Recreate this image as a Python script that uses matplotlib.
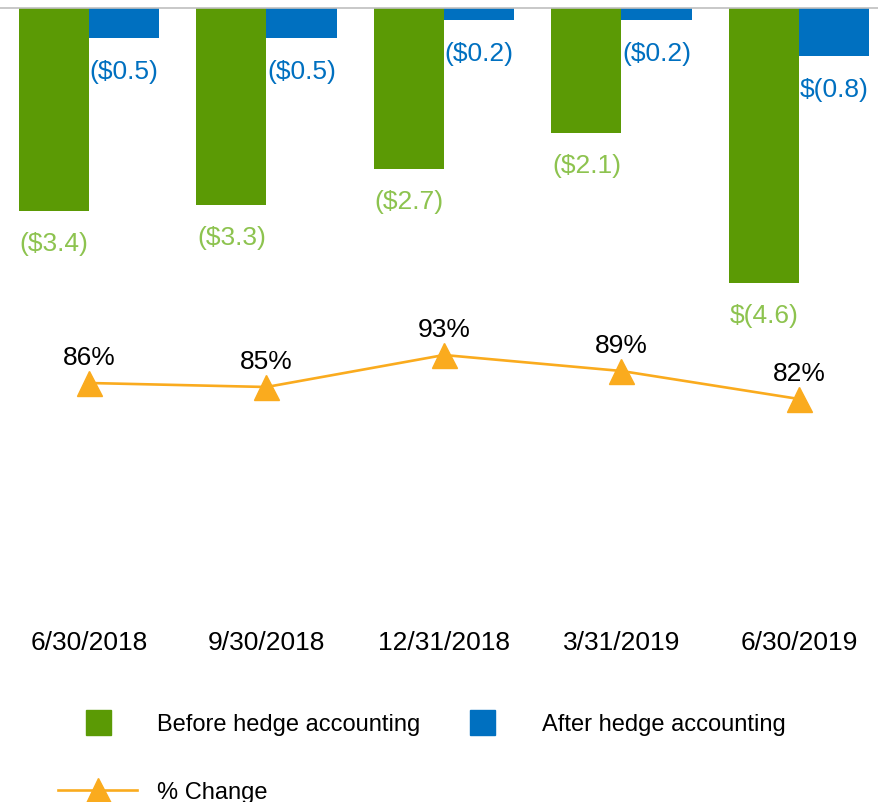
import matplotlib.pyplot as plt
from matplotlib.lines import Line2D
import numpy as np

plt.rcParams['font.family'] = ['Liberation Sans', 'DejaVu Sans']

# data
dates = ["6/30/2018", "9/30/2018", "12/31/2018", "3/31/2019", "6/30/2019"]
before = [-3.4, -3.3, -2.7, -2.1, -4.6]
after = [-0.5, -0.5, -0.2, -0.2, -0.8]
before_lbl = ["($3.4)", "($3.3)", "($2.7)", "($2.1)", "$(4.6)"]
after_lbl = ["($0.5)", "($0.5)", "($0.2)", "($0.2)", "$(0.8)"]
pct = [86, 85, 93, 89, 82]

green = "#5B9A05"
blue = "#0070C0"
green_txt = "#8DC34F"
orange = "#FAAB1E"
fs = 19

W, H = 879, 803
fig = plt.figure(figsize=(W / 100, H / 100), dpi=100)
top, bot = 9, 620
ax = fig.add_axes([0, 1 - bot / H, 1, (bot - top) / H])

x = np.arange(len(dates))
bw = 0.395
ax.bar(x - bw / 2, before, bw, color=green, label="Before hedge accounting")
ax.bar(x + bw / 2, after, bw, color=blue, label="After hedge accounting")

for i in range(len(x)):
    ax.annotate(before_lbl[i], (x[i] - bw / 2, before[i]), xytext=(0, -23),
                textcoords="offset points", ha="center", va="center",
                color=green_txt, fontsize=fs)
    ax.annotate(after_lbl[i], (x[i] + bw / 2, after[i]), xytext=(0, -24),
                textcoords="offset points", ha="center", va="center",
                color=blue, fontsize=fs)

ax.set_xlim(-89 / 177.5, (W - 89) / 177.5)
ax.set_ylim(-(bot - top) / 59.7, 0)
ax.set_xticks(x)
ax.set_xticklabels(dates, fontsize=fs)
ax.tick_params(axis="x", length=0, pad=8)
ax.set_yticks([])
for s in ["left", "right", "bottom"]:
    ax.spines[s].set_visible(False)
ax.spines["top"].set_color("#BFBFBF")
ax.spines["top"].set_linewidth(1.2)

ax2 = ax.twinx()
ax2.plot(x, pct, color=orange, lw=1.9, marker="^", markersize=18,
         label="% Change")
for i in range(len(x)):
    ax2.annotate(f"{pct[i]}%", (x[i], pct[i]), xytext=(0, 19),
                 textcoords="offset points", ha="center", va="center",
                 fontsize=fs, color="black")
ytop = 86 + (384 - top) / 4
ax2.set_ylim(ytop - (bot - top) / 4, ytop)
ax2.set_yticks([])
for s in ["left", "right", "bottom", "top"]:
    ax2.spines[s].set_visible(False)

handles = [
    Line2D([], [], color=green, marker="s", markersize=18, linestyle="none"),
    Line2D([], [], color=orange, marker="^", markersize=18, lw=1.9),
    Line2D([], [], color=blue, marker="s", markersize=18, linestyle="none"),
]
labels = ["Before hedge accounting", "% Change", "After hedge accounting"]
fig.legend(handles, labels, ncol=2, loc="upper left",
           bbox_to_anchor=(58 / W, 1 - 714 / H), frameon=False, fontsize=17,
           handlelength=3.35, handletextpad=0.85, columnspacing=0.95,
           labelspacing=1.95, borderpad=0, borderaxespad=0)

fig.savefig("out.png", dpi=100)
